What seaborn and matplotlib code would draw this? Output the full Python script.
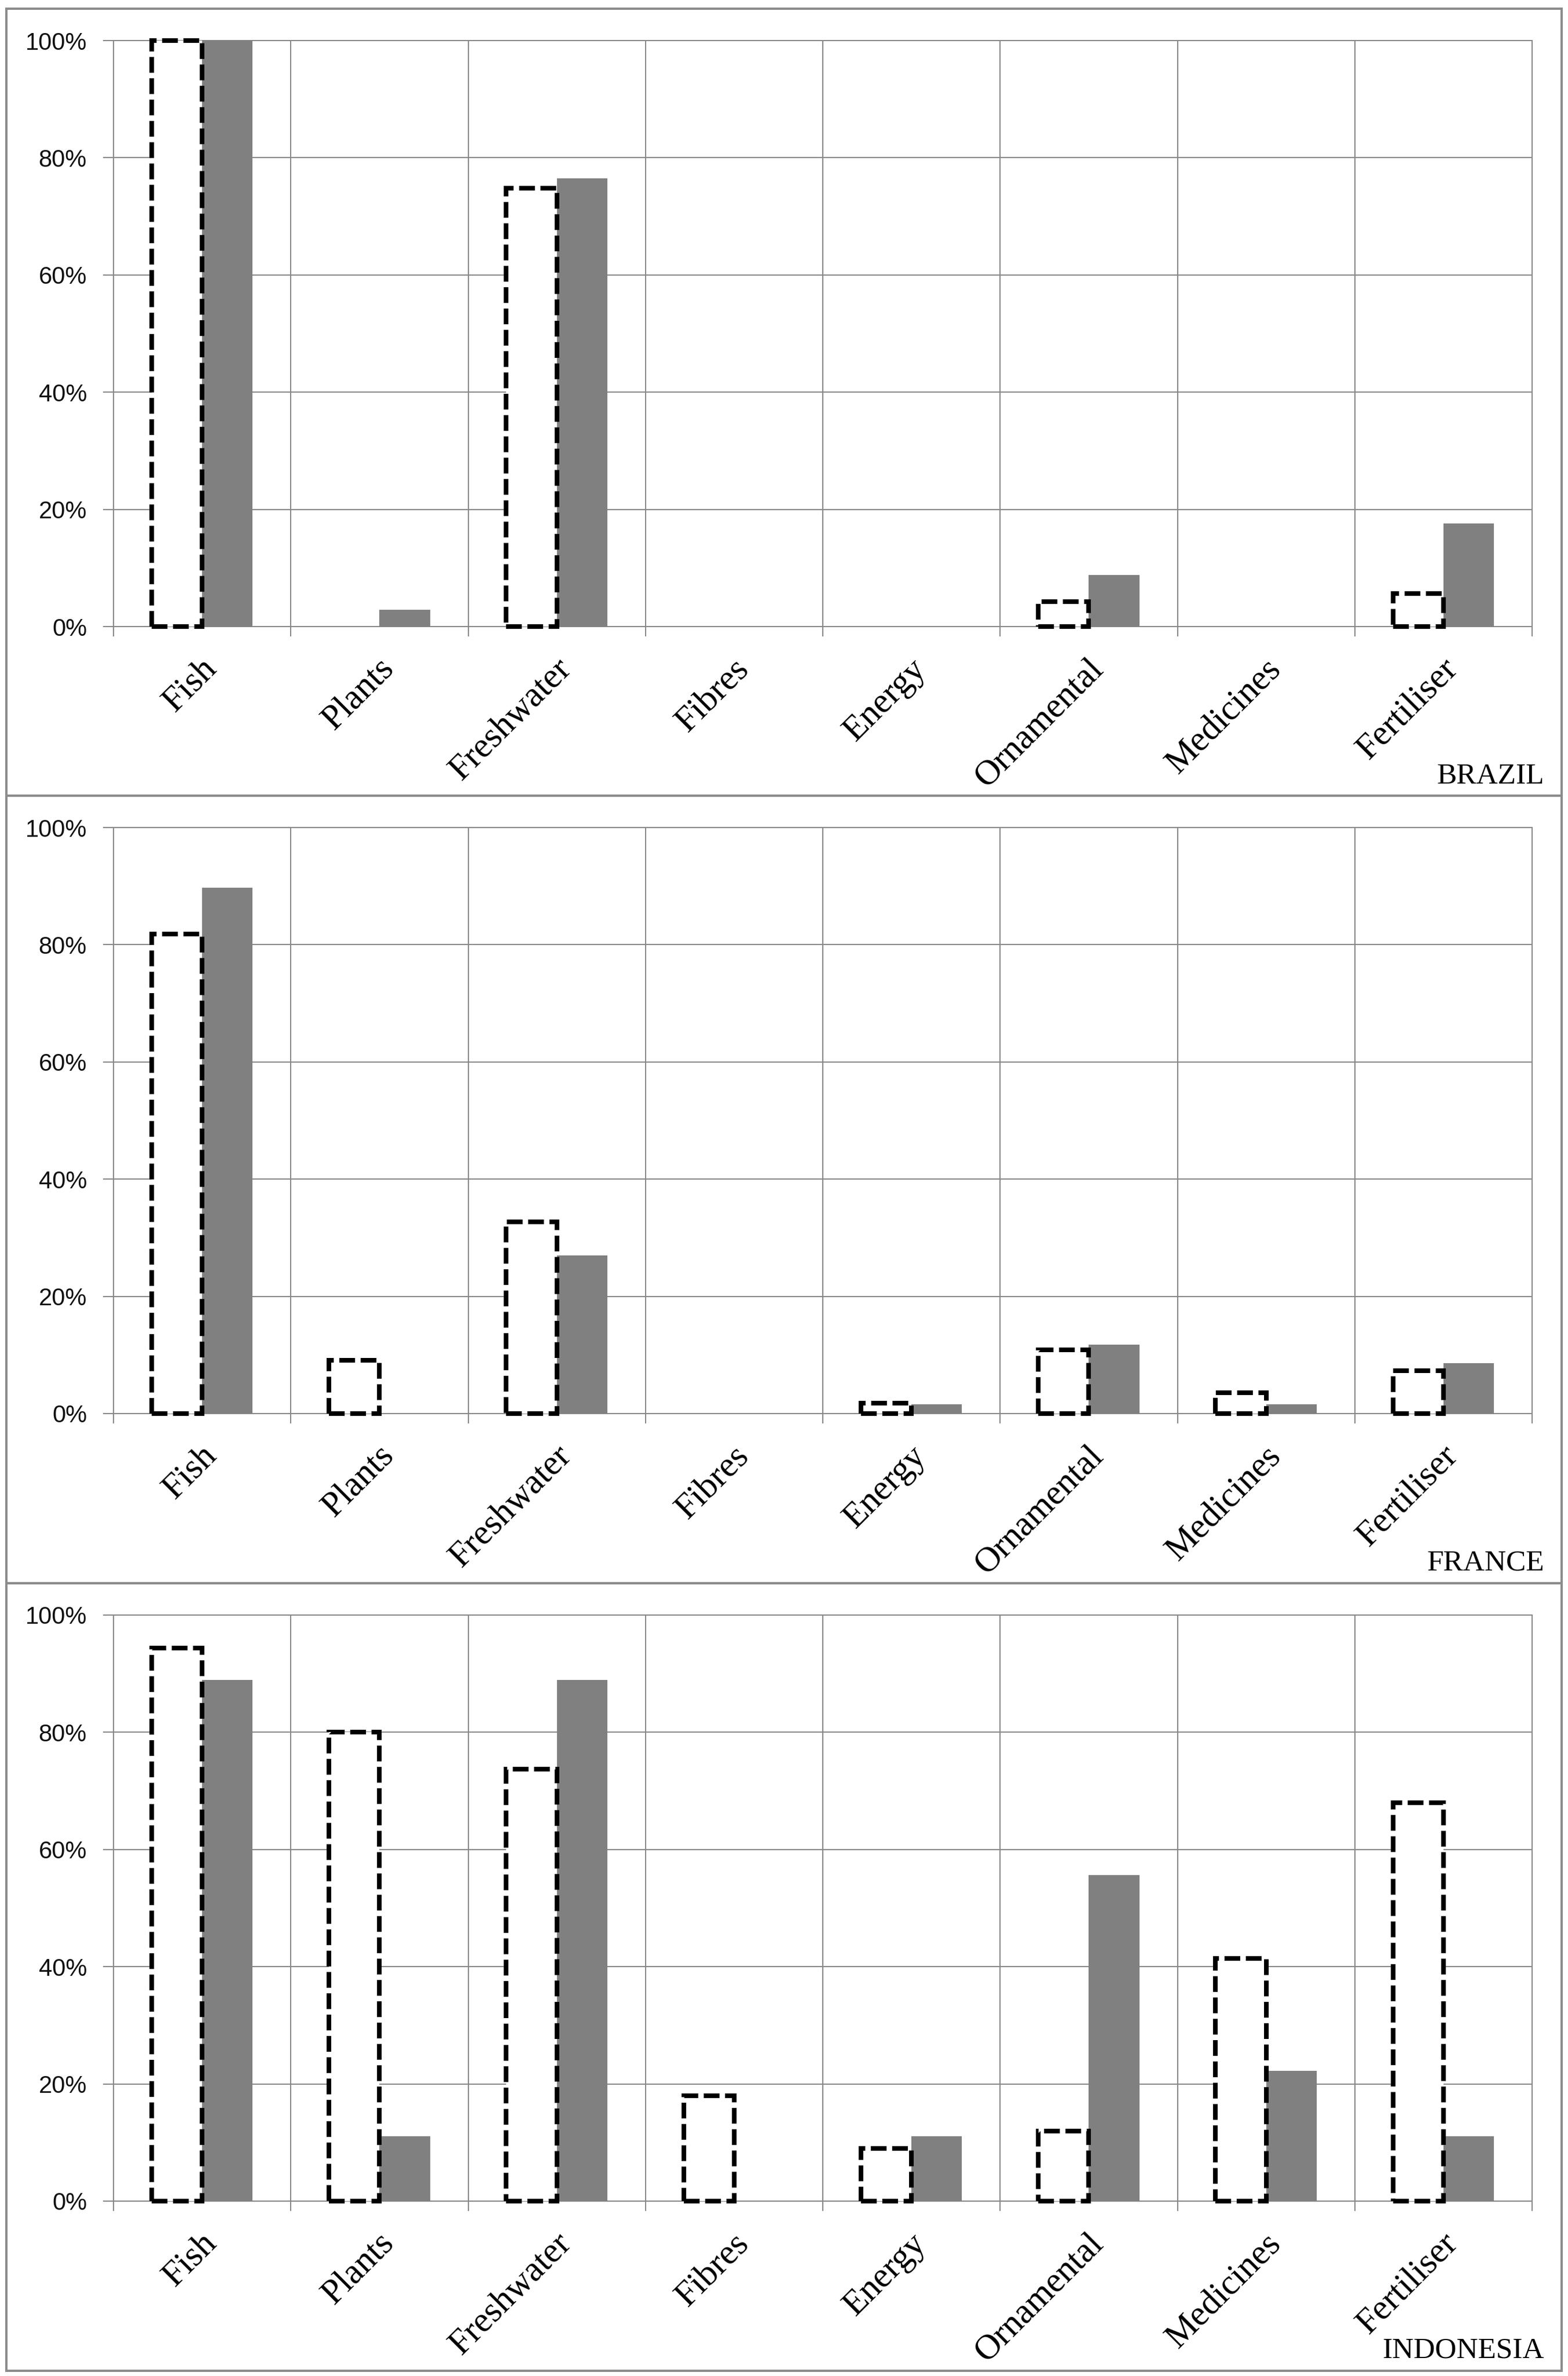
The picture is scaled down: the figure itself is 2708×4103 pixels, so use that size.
import numpy as np
import pandas as pd
import matplotlib
matplotlib.use("Agg")
import matplotlib.pyplot as plt
import matplotlib.transforms as mtransforms
from matplotlib.patches import Rectangle
from matplotlib.ticker import FixedLocator, NullFormatter, PercentFormatter
import seaborn as sns

# ---------------- data ----------------
categories = ["Fish", "Plants", "Freshwater", "Fibres", "Energy",
              "Ornamental", "Medicines", "Fertiliser"]
countries = ["BRAZIL", "FRANCE", "INDONESIA"]

brazil_outline = [100.0, 0.0, 74.8, 0.0, 0.0, 4.2, 0.0, 5.6]
brazil_filled = [100.0, 2.9, 76.5, 0.0, 0.0, 8.8, 0.0, 17.6]

france_outline = [81.8, 9.1, 32.7, 0.0, 1.8, 10.9, 3.6, 7.3]
france_filled = [89.7, 0.0, 27.0, 0.0, 1.6, 11.8, 1.6, 8.6]

indonesia_outline = [94.4, 80.0, 73.7, 18.0, 9.0, 12.0, 41.4, 68.0]
indonesia_filled = [88.9, 11.1, 88.9, 0.0, 11.1, 55.6, 22.2, 11.1]

y_ticks = [0, 20, 40, 60, 80, 100]

# ---------------- style ----------------
plt.rcParams["font.family"] = ["Liberation Sans", "DejaVu Sans"]
W, H = 2708, 4103
DPI = 100
PX = 72.0 / DPI  # points per pixel

GRID = "#888888"
BORDER = "#8c8c8c"
FILL = "#808080"

fig = plt.figure(figsize=(W / DPI, H / DPI), dpi=DPI)
fig.patch.set_facecolor("white")

panel_tops = [15, 1374, 2734]
panel_bottoms = [1374, 2734, 4094]
plot_left, plot_right = 196, 2646
plot_top_off, plot_bot_off = 55, 1067

panels = [
    (countries[0], brazil_outline, brazil_filled),
    (countries[1], france_outline, france_filled),
    (countries[2], indonesia_outline, indonesia_filled),
]

for i, (name, outline, filled) in enumerate(panels):
    top = panel_tops[i]
    # panel border
    fig.add_artist(Rectangle((11 / W, 1 - panel_bottoms[i] / H),
                             (2697 - 11) / W, (panel_bottoms[i] - top) / H,
                             transform=fig.transFigure, fill=False,
                             edgecolor=BORDER, linewidth=4 * PX, zorder=0))

    ax = fig.add_axes([plot_left / W, 1 - (top + plot_bot_off) / H,
                       (plot_right - plot_left) / W,
                       (plot_bot_off - plot_top_off) / H])

    df = pd.DataFrame({
        "category": categories * 2,
        "value": np.array(outline + filled) / 100.0,
        "series": ["outline"] * len(categories) + ["filled"] * len(categories),
    })
    sns.barplot(data=df, x="category", y="value", hue="series",
                order=categories, hue_order=["outline", "filled"],
                palette={"outline": "white", "filled": FILL},
                width=0.57, saturation=1, errorbar=None, legend=False, ax=ax)

    for p in ax.containers[0]:
        p.set_facecolor("white")
        p.set_edgecolor("black")
        p.set_linewidth(8 * PX)
        p.set_linestyle((0, (3.4, 1.2)))
        p.set_clip_on(False)
        p.set_zorder(4)
    for p in ax.containers[1]:
        p.set_edgecolor("none")
        p.set_linewidth(0)
        p.set_zorder(3)
    for p in ax.patches:
        if abs(p.get_height()) < 1e-9:
            p.set_visible(False)

    ax.set_xlim(-0.5, len(categories) - 0.5)
    ax.set_ylim(0, 1)
    ax.set_xlabel("")
    ax.set_ylabel("")

    # grid at category boundaries and every 20 %
    ax.xaxis.set_major_locator(FixedLocator(np.arange(-0.5, len(categories), 1.0)))
    ax.xaxis.set_major_formatter(NullFormatter())
    ax.xaxis.set_minor_locator(FixedLocator([]))
    ax.set_yticks(np.array(y_ticks) / 100.0)
    ax.yaxis.set_major_formatter(PercentFormatter(1.0, decimals=0))

    ax.grid(True, which="major", color=GRID, linewidth=2 * PX)
    ax.set_axisbelow(True)
    for s in ax.spines.values():
        s.set_color(GRID)
        s.set_linewidth(2 * PX)
        s.set_zorder(1)

    ax.tick_params(axis="y", which="major", direction="out", length=18 * PX,
                   width=2 * PX, color=GRID, pad=28 * PX, labelsize=30,
                   labelcolor="#111111")
    ax.tick_params(axis="x", which="major", direction="out", length=17 * PX,
                   width=2 * PX, color=GRID)

    # rotated category labels
    trans = mtransforms.blended_transform_factory(ax.transData, ax.transAxes) + \
        mtransforms.ScaledTranslation(17 / DPI, -65 / DPI, fig.dpi_scale_trans)
    for k, cat in enumerate(categories):
        ax.text(k, 0, cat, transform=trans, rotation=45, ha="right",
                va="center", rotation_mode="anchor", fontsize=44,
                family=["Liberation Serif", "DejaVu Serif"], color="black")

    # country name
    fig.text(2667 / W, 1 - (top + 1338) / H, name, ha="right", va="baseline",
             fontsize=37, family=["Liberation Serif", "DejaVu Serif"],
             color="black")

fig.savefig("out.png", dpi=DPI, facecolor="white")
